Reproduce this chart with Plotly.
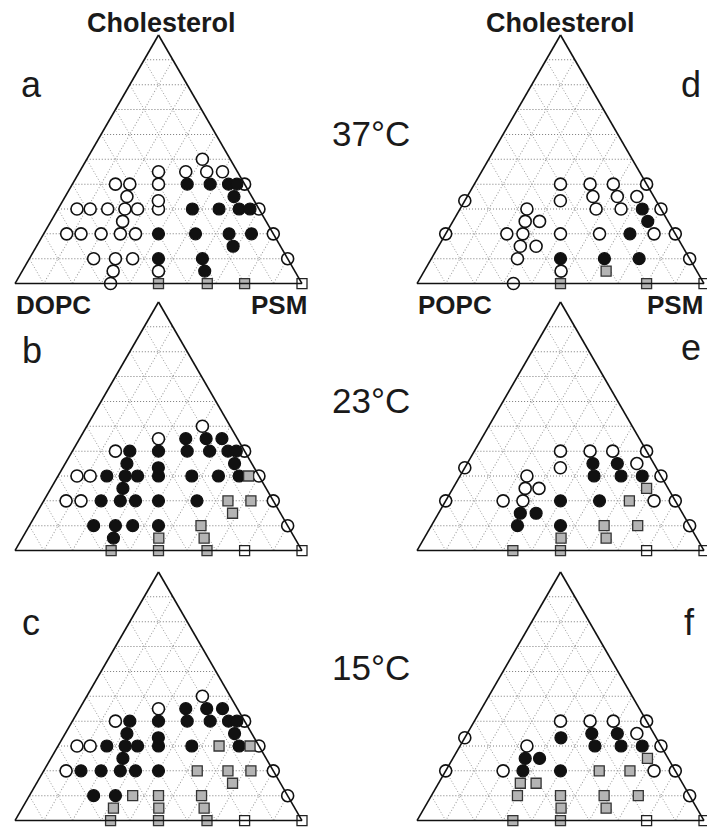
import plotly.graph_objects as go

W, H = 707, 828

# Each entry: (cholesterol fraction, PSM fraction, phase code)
# phase codes: "o" one liquid phase, "f" liquid-liquid coexistence,
#              "g" gel-containing, "s" pure gel
PANEL_A = [  # DOPC / PSM / Chol, 37 °C
    (0.00, 0.333, "o"), (0.05, 0.317, "o"), (0.10, 0.300, "o"), (0.10, 0.224, "o"),
    (0.10, 0.360, "o"), (0.05, 0.475, "o"), (0.10, 0.900, "o"),
    (0.20, 0.080, "o"), (0.20, 0.130, "o"), (0.20, 0.200, "o"), (0.20, 0.267, "o"),
    (0.20, 0.320, "o"), (0.20, 0.800, "o"), (0.25, 0.250, "o"),
    (0.30, 0.066, "o"), (0.30, 0.112, "o"), (0.30, 0.173, "o"), (0.30, 0.233, "o"),
    (0.30, 0.277, "o"), (0.30, 0.350, "o"), (0.30, 0.700, "o"),
    (0.35, 0.215, "o"), (0.333, 0.333, "o"),
    (0.40, 0.150, "o"), (0.40, 0.200, "o"), (0.40, 0.300, "o"), (0.40, 0.600, "o"),
    (0.45, 0.275, "o"), (0.45, 0.370, "o"), (0.45, 0.443, "o"), (0.45, 0.498, "o"),
    (0.50, 0.403, "o"),
    (0.05, 0.636, "f"), (0.10, 0.450, "f"), (0.10, 0.603, "f"), (0.15, 0.685, "f"),
    (0.20, 0.400, "f"), (0.20, 0.529, "f"), (0.20, 0.646, "f"), (0.20, 0.724, "f"),
    (0.30, 0.468, "f"), (0.30, 0.561, "f"), (0.30, 0.631, "f"), (0.30, 0.669, "f"),
    (0.35, 0.588, "f"),
    (0.40, 0.400, "f"), (0.40, 0.480, "f"), (0.40, 0.544, "f"), (0.40, 0.573, "f"),
    (0.00, 0.500, "g"), (0.00, 0.670, "g"), (0.00, 0.800, "g"),
    (0.00, 1.000, "s"),
]

PANEL_B = [  # DOPC / PSM / Chol, 23 °C
    (0.20, 0.078, "o"), (0.20, 0.130, "o"), (0.30, 0.066, "o"), (0.30, 0.112, "o"),
    (0.40, 0.150, "o"), (0.45, 0.275, "o"), (0.50, 0.403, "o"), (0.40, 0.600, "o"),
    (0.30, 0.700, "o"), (0.20, 0.800, "o"), (0.10, 0.900, "o"),
    (0.05, 0.318, "f"), (0.10, 0.224, "f"), (0.10, 0.300, "f"), (0.10, 0.360, "f"),
    (0.10, 0.450, "f"), (0.20, 0.200, "f"), (0.20, 0.267, "f"), (0.20, 0.320, "f"),
    (0.20, 0.400, "f"), (0.20, 0.534, "f"), (0.25, 0.251, "f"),
    (0.30, 0.170, "f"), (0.30, 0.234, "f"), (0.30, 0.277, "f"), (0.30, 0.350, "f"),
    (0.333, 0.333, "f"), (0.30, 0.466, "f"), (0.30, 0.559, "f"), (0.30, 0.631, "f"),
    (0.35, 0.215, "f"), (0.35, 0.590, "f"),
    (0.40, 0.200, "f"), (0.40, 0.300, "f"), (0.40, 0.400, "f"), (0.40, 0.478, "f"),
    (0.40, 0.542, "f"), (0.40, 0.571, "f"),
    (0.45, 0.370, "f"), (0.45, 0.441, "f"), (0.45, 0.496, "f"),
    (0.00, 0.335, "g"), (0.00, 0.500, "g"), (0.00, 0.669, "g"), (0.05, 0.476, "g"),
    (0.05, 0.634, "g"), (0.10, 0.598, "g"), (0.15, 0.683, "g"), (0.20, 0.642, "g"),
    (0.20, 0.722, "g"), (0.30, 0.664, "g"),
    (0.00, 0.800, "s"), (0.00, 1.000, "s"),
]

PANEL_C = [  # DOPC / PSM / Chol, 15 °C
    (0.20, 0.078, "o"), (0.30, 0.066, "o"), (0.30, 0.112, "o"), (0.40, 0.150, "o"),
    (0.45, 0.275, "o"), (0.50, 0.403, "o"), (0.40, 0.600, "o"), (0.30, 0.700, "o"),
    (0.20, 0.800, "o"), (0.10, 0.900, "o"),
    (0.10, 0.224, "f"), (0.10, 0.300, "f"), (0.20, 0.130, "f"), (0.20, 0.200, "f"),
    (0.20, 0.267, "f"), (0.20, 0.320, "f"), (0.20, 0.400, "f"), (0.25, 0.251, "f"),
    (0.30, 0.170, "f"), (0.30, 0.234, "f"), (0.30, 0.277, "f"), (0.30, 0.350, "f"),
    (0.333, 0.333, "f"), (0.30, 0.466, "f"), (0.30, 0.631, "f"),
    (0.35, 0.215, "f"), (0.35, 0.590, "f"),
    (0.40, 0.200, "f"), (0.40, 0.300, "f"), (0.40, 0.400, "f"), (0.40, 0.480, "f"),
    (0.40, 0.544, "f"), (0.40, 0.573, "f"),
    (0.45, 0.370, "f"), (0.45, 0.443, "f"), (0.45, 0.498, "f"),
    (0.00, 0.333, "g"), (0.00, 0.500, "g"), (0.00, 0.669, "g"), (0.05, 0.318, "g"),
    (0.05, 0.476, "g"), (0.05, 0.634, "g"), (0.10, 0.360, "g"), (0.10, 0.450, "g"),
    (0.10, 0.600, "g"), (0.15, 0.683, "g"), (0.20, 0.535, "g"), (0.20, 0.642, "g"),
    (0.20, 0.722, "g"), (0.30, 0.561, "g"), (0.30, 0.669, "g"),
    (0.00, 0.800, "s"), (0.00, 1.000, "s"),
]

PANEL_D = [  # POPC / PSM / Chol, 37 °C
    (0.00, 0.336, "o"), (0.05, 0.477, "o"), (0.10, 0.300, "o"), (0.15, 0.285, "o"),
    (0.15, 0.340, "o"), (0.20, 0.000, "o"), (0.20, 0.213, "o"), (0.20, 0.269, "o"),
    (0.20, 0.400, "o"), (0.20, 0.536, "o"), (0.20, 0.726, "o"), (0.20, 0.800, "o"),
    (0.25, 0.252, "o"), (0.25, 0.302, "o"), (0.30, 0.233, "o"), (0.30, 0.474, "o"),
    (0.30, 0.561, "o"), (0.30, 0.700, "o"), (0.333, 0.000, "o"), (0.333, 0.333, "o"),
    (0.35, 0.438, "o"), (0.35, 0.523, "o"), (0.35, 0.591, "o"),
    (0.40, 0.300, "o"), (0.40, 0.403, "o"), (0.40, 0.484, "o"), (0.40, 0.600, "o"),
    (0.10, 0.900, "o"),
    (0.10, 0.450, "f"), (0.10, 0.603, "f"), (0.10, 0.724, "f"), (0.20, 0.642, "f"),
    (0.25, 0.679, "f"), (0.30, 0.635, "f"),
    (0.00, 0.500, "g"), (0.00, 0.800, "g"), (0.05, 0.634, "g"),
    (0.00, 1.000, "s"),
]

PANEL_E = [  # POPC / PSM / Chol, 23 °C
    (0.10, 0.900, "o"), (0.20, 0.000, "o"), (0.20, 0.200, "o"), (0.20, 0.269, "o"),
    (0.20, 0.726, "o"), (0.20, 0.800, "o"), (0.25, 0.252, "o"), (0.25, 0.300, "o"),
    (0.30, 0.233, "o"), (0.30, 0.700, "o"), (0.333, 0.000, "o"), (0.333, 0.333, "o"),
    (0.35, 0.591, "o"), (0.40, 0.300, "o"), (0.40, 0.403, "o"), (0.40, 0.482, "o"),
    (0.40, 0.600, "o"),
    (0.10, 0.300, "f"), (0.10, 0.450, "f"), (0.15, 0.285, "f"), (0.15, 0.340, "f"),
    (0.20, 0.400, "f"), (0.20, 0.536, "f"), (0.30, 0.467, "f"), (0.30, 0.561, "f"),
    (0.30, 0.635, "f"), (0.35, 0.438, "f"), (0.35, 0.523, "f"),
    (0.00, 0.334, "g"), (0.00, 0.500, "g"), (0.05, 0.477, "g"), (0.05, 0.634, "g"),
    (0.10, 0.602, "g"), (0.10, 0.719, "g"), (0.20, 0.640, "g"), (0.25, 0.675, "g"),
    (0.00, 0.800, "s"), (0.00, 1.000, "s"),
]

PANEL_F = [  # POPC / PSM / Chol, 15 °C
    (0.10, 0.900, "o"), (0.20, 0.000, "o"), (0.20, 0.200, "o"), (0.20, 0.726, "o"),
    (0.20, 0.800, "o"), (0.30, 0.233, "o"), (0.30, 0.700, "o"), (0.333, 0.000, "o"),
    (0.35, 0.591, "o"), (0.40, 0.300, "o"), (0.40, 0.403, "o"), (0.40, 0.484, "o"),
    (0.40, 0.600, "o"),
    (0.20, 0.269, "f"), (0.20, 0.400, "f"), (0.25, 0.252, "f"), (0.25, 0.302, "f"),
    (0.30, 0.470, "f"), (0.30, 0.561, "f"), (0.30, 0.635, "f"), (0.333, 0.335, "f"),
    (0.35, 0.434, "f"), (0.35, 0.523, "f"),
    (0.00, 0.334, "g"), (0.00, 0.500, "g"), (0.05, 0.477, "g"), (0.05, 0.634, "g"),
    (0.10, 0.300, "g"), (0.10, 0.450, "g"), (0.10, 0.602, "g"), (0.10, 0.721, "g"),
    (0.15, 0.285, "g"), (0.15, 0.340, "g"), (0.20, 0.535, "g"), (0.20, 0.642, "g"),
    (0.25, 0.678, "g"),
    (0.00, 0.800, "s"), (0.00, 1.000, "s"),
]

PANEL_LETTERS = ["a", "b", "c", "d", "e", "f"]
TEMPERATURES = ["37°C", "23°C", "15°C"]
LIPID_LEFT = ["DOPC", "POPC"]
LIPID_RIGHT = "PSM"
TOP_LABEL = "Cholesterol"

# marker styles per phase code
STYLE = {
    "o": dict(symbol="circle", size=12, color="white", line=dict(color="#111", width=1.6)),
    "f": dict(symbol="circle", size=12, color="#111", line=dict(color="#111", width=1.2)),
    "g": dict(symbol="square", size=10, color="#b4b4b4", line=dict(color="#333", width=1.3)),
    "s": dict(symbol="square", size=10, color="white", line=dict(color="#222", width=1.3)),
}


def px_x(x):
    return x / W


def px_y(y):
    return 1 - y / H


# triangle placement (pixels): left edge x, top y; each side is 287 px
COL_X = [15, 417]
ROW_Y = [35, 302, 572]
SIDE = 287
TRI_H = SIDE * 3 ** 0.5 / 2

panels = [PANEL_A, PANEL_B, PANEL_C, PANEL_D, PANEL_E, PANEL_F]

fig = go.Figure()
layout_updates = {}

for idx, pts in enumerate(panels):
    col, row = divmod(idx, 3)
    tname = "ternary" if idx == 0 else f"ternary{idx + 1}"
    x0 = COL_X[col]
    y0 = ROW_Y[row]
    axis_common = dict(
        showticklabels=False, ticks="", dtick=0.1, tick0=0,
        linecolor="#111", linewidth=1.6, showline=True, showgrid=True,
        griddash="1px,2px", gridwidth=1, title=dict(text=""), min=0,
    )
    layout_updates[tname] = dict(
        domain=dict(x=[px_x(x0), px_x(x0 + SIDE)], y=[px_y(y0 + TRI_H), px_y(y0)]),
        sum=1,
        bgcolor="white",
        aaxis=dict(axis_common, gridcolor="#7a7a7a"),
        baxis=dict(axis_common, gridcolor="#9a9a9a"),
        caxis=dict(axis_common, gridcolor="#9a9a9a"),
    )
    for code in ["o", "f", "g", "s"]:
        sel = [p for p in pts if p[2] == code]
        if not sel:
            continue
        chol = [p[0] for p in sel]
        psm = [p[1] for p in sel]
        pl = [max(0.0, 1 - p[0] - p[1]) for p in sel]
        st = STYLE[code]
        fig.add_trace(go.Scatterternary(
            a=chol, b=pl, c=psm, mode="markers", subplot=tname,
            cliponaxis=False, showlegend=False, hoverinfo="skip",
            marker=dict(symbol=st["symbol"], size=st["size"], color=st["color"],
                        line=st["line"]),
        ))

bold = dict(family="Liberation Sans, Arial, sans-serif", size=27, color="#1a1a1a")
reg = dict(family="Liberation Sans, Arial, sans-serif", size=35, color="#1a1a1a")

annotations = []


def add_text(text, x, y, font, xanchor="center", yanchor="middle", bold_text=False):
    annotations.append(dict(
        text=f"<b>{text}</b>" if bold_text else text,
        x=px_x(x), y=px_y(y), xref="paper", yref="paper",
        xanchor=xanchor, yanchor=yanchor, showarrow=False, font=font,
    ))


# top vertex labels
add_text(TOP_LABEL, 161.5, 22.5, bold, bold_text=True)
add_text(TOP_LABEL, 560, 22.5, bold, bold_text=True)
# bottom vertex labels under the first row
lbl = dict(bold, size=26)
add_text(LIPID_LEFT[0], 53.5, 305, lbl, bold_text=True)
add_text(LIPID_RIGHT, 279, 305, lbl, bold_text=True)
add_text(LIPID_LEFT[1], 455, 305, lbl, bold_text=True)
add_text(LIPID_RIGHT, 705, 305, lbl, xanchor="right", bold_text=True)

# temperatures
for t, yc in zip(TEMPERATURES, [133.7, 400.5, 667]):
    add_text(t, 370.5, yc, reg)

# panel letters
letter_pos = [(31, 84.5), (32, 350.8), (31, 622.5), (691, 84.2), (691, 347.5), (689, 622.5)]
for letter, (lx, ly) in zip(PANEL_LETTERS, letter_pos):
    add_text(letter, lx, ly, dict(reg, size=36))

fig.update_layout(
    width=W, height=H,
    margin=dict(l=0, r=0, t=0, b=0),
    paper_bgcolor="white",
    plot_bgcolor="white",
    annotations=annotations,
    **layout_updates,
)

fig.write_html("out.html")
